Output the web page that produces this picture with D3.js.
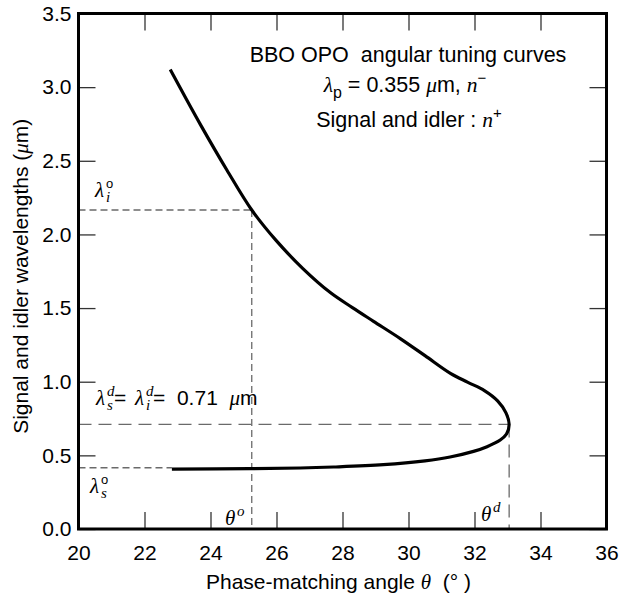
<!DOCTYPE html>
<html>
<head>
<meta charset="utf-8">
<script src="https://cdn.jsdelivr.net/npm/d3@7"></script>
<style>
  html, body { margin: 0; padding: 0; background: #fff; }
  svg { display: block; }
  text { font-family: "Liberation Sans", Arial, Helvetica, sans-serif; fill: #000; }
  .math { font-family: "Liberation Serif", "DejaVu Serif", serif; font-style: italic; }
</style>
</head>
<body>
<svg id="chart" width="626" height="597"></svg>
<script>
// BBO OPO angular tuning curve (pump 0.355 µm): phase-matching angle vs. signal/idler wavelength
const angle = [22.78, 23.7, 24.5, 25.25, 26.0, 26.8, 27.63, 28.3, 28.94, 29.75, 30.5, 31.27, 31.8, 32.3,
  32.7, 32.95, 33.05, 32.97, 32.78, 32.38, 31.97, 31.26, 30.5, 29.24, 27.73, 26.72, 25.2, 22.83];
const wavelength = [3.12, 2.744, 2.436, 2.166, 1.956, 1.768, 1.605, 1.503, 1.41, 1.293, 1.177, 1.057, 0.996, 0.94,
  0.87, 0.79, 0.71, 0.645, 0.604, 0.559, 0.527, 0.489, 0.463, 0.437, 0.421, 0.414, 0.410, 0.407];

const xTicks = [20, 22, 24, 26, 28, 30, 32, 34, 36];
const yTicks = [0.0, 0.5, 1.0, 1.5, 2.0, 2.5, 3.0, 3.5];

// marked points
const thetaO = 25.25;        // angle where idler is λi°
const idlerO = 2.166;        // λi°
const signalO = 0.416;       // λs°
const thetaD = 33.05;        // degenerate angle
const degenerate = 0.71;     // λs^d = λi^d

const svg = d3.select("#chart");
const x = d3.scaleLinear().domain([20, 36]).range([78.5, 606.5]);
const y = d3.scaleLinear().domain([0, 3.5]).range([529, 13.5]);

const TICK = 17;

// axes with inward ticks
const axB = svg.append("g").attr("transform", `translate(0,${y(0)})`)
  .call(d3.axisBottom(x).tickValues(xTicks).tickSize(-TICK).tickPadding(16).tickFormat(d3.format("d")));
const axT = svg.append("g").attr("transform", `translate(0,${y(3.5)})`)
  .call(d3.axisTop(x).tickValues(xTicks).tickSize(-TICK).tickFormat(""));
const axL = svg.append("g").attr("transform", `translate(${x(20)},0)`)
  .call(d3.axisLeft(y).tickValues(yTicks).tickSize(-TICK).tickPadding(7).tickFormat(d3.format(".1f")));
const axR = svg.append("g").attr("transform", `translate(${x(36)},0)`)
  .call(d3.axisRight(y).tickValues(yTicks).tickSize(-TICK).tickFormat(""));

[axB, axT, axL, axR].forEach(g => {
  g.select(".domain").remove();
  g.selectAll(".tick line").attr("stroke", "#333").attr("stroke-width", 1.3);
  g.selectAll(".tick text").attr("font-size", 21).attr("fill", "#000")
    .style("font-family", '"Liberation Sans", Arial, sans-serif');
});

// dashed guide lines
const guides = svg.append("g").attr("fill", "none").attr("stroke", "#6a6a6a").attr("stroke-width", 1.3);
guides.append("line").attr("x1", x(20)).attr("x2", x(thetaO)).attr("y1", y(idlerO)).attr("y2", y(idlerO))
  .attr("stroke-dasharray", "7,4");
guides.append("line").attr("x1", x(thetaO)).attr("x2", x(thetaO)).attr("y1", y(idlerO)).attr("y2", y(0))
  .attr("stroke-dasharray", "7,4");
guides.append("line").attr("x1", x(20)).attr("x2", x(angle[angle.length - 1])).attr("y1", y(signalO)).attr("y2", y(signalO))
  .attr("stroke-dasharray", "7,4");
guides.append("line").attr("x1", x(20)).attr("x2", x(thetaD)).attr("y1", y(degenerate)).attr("y2", y(degenerate))
  .attr("stroke-dasharray", "13,7");
guides.append("line").attr("x1", x(thetaD)).attr("x2", x(thetaD)).attr("y1", y(degenerate)).attr("y2", y(0))
  .attr("stroke-dasharray", "13,7");

// tuning curve
const pts = angle.map((a, i) => [a, wavelength[i]]);
const line = d3.line().x(d => x(d[0])).y(d => y(d[1])).curve(d3.curveCatmullRom.alpha(0.5));
svg.append("path").datum(pts).attr("d", line)
  .attr("fill", "none").attr("stroke", "#000").attr("stroke-width", 3.2)
  .attr("stroke-linecap", "butt").attr("stroke-linejoin", "round");

// frame
svg.append("rect").attr("x", x(20)).attr("y", y(3.5))
  .attr("width", x(36) - x(20)).attr("height", y(0) - y(3.5))
  .attr("fill", "none").attr("stroke", "#000").attr("stroke-width", 3);

// axis titles
svg.append("text").attr("x", (x(20) + x(36)) / 2 - 4).attr("y", 589)
  .attr("text-anchor", "middle").attr("font-size", 21).style("white-space", "pre")
  .call(t => {
    t.append("tspan").text("Phase-matching angle ");
    t.append("tspan").attr("class", "math").text("θ");
    t.append("tspan").text("  (° )");
  });
svg.append("text").attr("transform", `translate(28,${(y(0) + y(3.5)) / 2 + 5}) rotate(-90)`)
  .attr("text-anchor", "middle").attr("font-size", 21)
  .call(t => {
    t.append("tspan").text("Signal and idler wavelengths (");
    t.append("tspan").attr("class", "math").text("μ");
    t.append("tspan").text("m)");
  });

// annotation block
const ax = 408;
svg.append("text").attr("x", ax).attr("y", 62).attr("text-anchor", "middle")
  .attr("font-size", 21.5).style("white-space", "pre").text("BBO OPO  angular tuning curves");
svg.append("text").attr("x", ax - 3).attr("y", 92).attr("text-anchor", "middle")
  .attr("font-size", 21.5).style("white-space", "pre")
  .call(t => {
    t.append("tspan").attr("class", "math").text("λ");
    t.append("tspan").attr("font-size", 16).attr("dy", 6).text("p");
    t.append("tspan").attr("dy", -6).text(" = 0.355 ");
    t.append("tspan").attr("class", "math").text("μ");
    t.append("tspan").text("m, ");
    t.append("tspan").attr("class", "math").text("n");
    t.append("tspan").attr("font-size", 15).attr("dy", -9).text("−");
  });
svg.append("text").attr("x", ax + 1).attr("y", 127).attr("text-anchor", "middle")
  .attr("font-size", 21.5).style("white-space", "pre")
  .call(t => {
    t.append("tspan").text("Signal and idler : ");
    t.append("tspan").attr("class", "math").text("n");
    t.append("tspan").attr("font-size", 15).attr("dy", -9).text("+");
  });

// symbol with stacked superscript / subscript, written into one text element
function symbol(t, x0, main, sup, sub, supSans) {
  const w = main === "λ" ? 11 : 12;
  t.append("tspan").attr("class", "math").attr("x", x0).text(main);
  if (sup) t.append("tspan").attr("class", supSans ? null : "math")
    .attr("x", x0 + w).attr("dy", -9).attr("font-size", supSans ? 13 : 15).text(sup);
  if (sub) t.append("tspan").attr("class", "math")
    .attr("x", x0 + w).attr("dy", sup ? 14 : 5).attr("font-size", 15).text(sub);
  // offset back to the baseline
  const moved = (sup ? -9 : 0) + (sub ? (sup ? 14 : 5) : 0);
  return -moved;
}
function label(x0, base, main, sup, sub, supSans) {
  const t = svg.append("text").attr("y", base).attr("font-size", 21);
  symbol(t, x0, main, sup, sub, supSans);
  return t;
}

label(95, y(idlerO) - 13, "λ", "o", "i", true);
label(90, y(signalO) + 25, "λ", "o", "s", true);
label(225, 525, "θ", "o", null, false);
label(481, 521, "θ", "d", null, false);

// degenerate-point label
const deg = svg.append("text").attr("y", 405).attr("font-size", 21).style("white-space", "pre");
let dy = symbol(deg, 96, "λ", "d", "s", false);
deg.append("tspan").attr("x", 114).attr("dy", dy).text("=");
dy = symbol(deg, 135, "λ", "d", "i", false);
deg.append("tspan").attr("x", 153).attr("dy", dy).text("=  " + degenerate.toFixed(2) + "  ");
deg.append("tspan").attr("class", "math").text("μ");
deg.append("tspan").text("m");
</script>
</body>
</html>
